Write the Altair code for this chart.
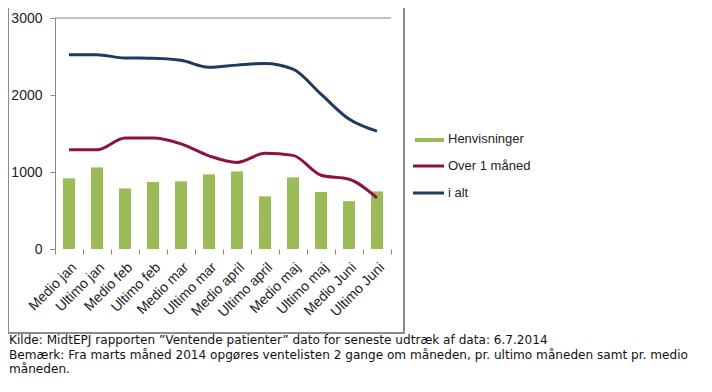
import altair as alt
import pandas as pd

categories = ["Medio jan", "Ultimo jan", "Medio feb", "Ultimo feb", "Medio mar", "Ultimo mar",
              "Medio april", "Ultimo april", "Medio maj", "Ultimo maj", "Medio Juni", "Ultimo Juni"]
henvisninger = [918, 1060, 787, 870, 878, 970, 1008, 684, 930, 740, 621, 748]
over_1_maaned = [1288, 1288, 1440, 1440, 1365, 1210, 1125, 1243, 1216, 958, 905, 665]
i_alt = [2523, 2523, 2480, 2478, 2450, 2360, 2388, 2410, 2335, 2010, 1688, 1530]

series_names = ["Henvisninger", "Over 1 måned", "i alt"]
footer_lines = [
    "Kilde: MidtEPJ rapporten ”Ventende patienter” dato for seneste udtræk af data: 6.7.2014",
    "Bemærk: Fra marts måned 2014 opgøres ventelisten 2 gange om måneden, pr. ultimo måneden samt pr. medio",
    "måneden.",
]

GREEN = "#9BBB59"
RED = "#8C1244"
BLUE = "#1F3A60"
AXIS_GRAY = "#868686"
LABEL_FONT = "Liberation Sans"

bars_df = pd.DataFrame({"cat": categories, "value": henvisninger})
lines_df = pd.DataFrame({
    "cat": categories * 2,
    "series": [series_names[1]] * len(categories) + [series_names[2]] * len(categories),
    "value": over_1_maaned + i_alt,
})

x_enc = alt.X(
    "cat:N", sort=categories,
    scale=alt.Scale(paddingInner=0, paddingOuter=0),
    axis=alt.Axis(title=None, labelAngle=-45, tickBand="extent", tickSize=5, domain=False,
                  labelPadding=6, tickColor=AXIS_GRAY,
                  labelFont=LABEL_FONT, labelFontSize=14, labelColor="#222222"),
)
y_scale = alt.Scale(domain=[0, 3000], nice=False)
y_axis = alt.Axis(title=None, values=[0, 500, 1000, 1500, 2000, 2500, 3000], grid=False, format="d",
                  tickSize=5, labelPadding=8, domainColor=AXIS_GRAY, tickColor=AXIS_GRAY,
                  labelFont=LABEL_FONT, labelFontSize=14, labelColor="#222222")

bars = alt.Chart(bars_df).mark_bar(size=12, color=GREEN).encode(
    x=x_enc, y=alt.Y("value:Q", scale=y_scale, axis=y_axis))

lines = alt.Chart(lines_df).mark_line(strokeWidth=3, interpolate="monotone").encode(
    x=alt.X("cat:N", sort=categories),
    y=alt.Y("value:Q", scale=y_scale),
    color=alt.Color("series:N", scale=alt.Scale(domain=series_names[1:], range=[RED, BLUE]), legend=None),
)

topline = alt.Chart(pd.DataFrame({"v": [3000]})).mark_rule(color=AXIS_GRAY, strokeWidth=1).encode(
    y=alt.Y("v:Q", scale=y_scale))

one = pd.DataFrame({"a": [0]})

frame = alt.Chart(one).mark_rect(fill=None, stroke="#8c8c8c", strokeWidth=2).encode(
    x=alt.value(-47), x2=alt.value(349), y=alt.value(-30), y2=alt.value(315))

leg_swatch = alt.Chart(one).mark_rect(color=GREEN).encode(
    x=alt.value(360), x2=alt.value(389), y=alt.value(120), y2=alt.value(124))
leg_red = alt.Chart(one).mark_rule(color=RED, strokeWidth=3).encode(
    x=alt.value(358), x2=alt.value(389), y=alt.value(148))
leg_blue = alt.Chart(one).mark_rule(color=BLUE, strokeWidth=3).encode(
    x=alt.value(358), x2=alt.value(389), y=alt.value(175))

leg_text = alt.layer(*[
    alt.Chart(pd.DataFrame({"t": [name]})).mark_text(
        align="left", baseline="middle", font=LABEL_FONT, fontSize=13, color="#222222"
    ).encode(text="t:N", x=alt.value(393), y=alt.value(yy))
    for name, yy in zip(series_names, [121, 148, 175])
])

footer = alt.layer(*[
    alt.Chart(pd.DataFrame({"t": [line]})).mark_text(
        align="left", baseline="middle", font="DejaVu Sans", fontSize=12.1, color="#111111"
    ).encode(text="t:N", x=alt.value(-46), y=alt.value(yy))
    for line, yy in zip(footer_lines, [322, 337, 351])
])

chart = alt.layer(frame, topline, bars, lines, leg_swatch, leg_red, leg_blue, leg_text, footer).properties(
    width=336, height=231,
    autosize=alt.AutoSizeParams(type="none"),
    padding={"left": 47, "top": 10, "right": 313, "bottom": 130},
    background="white",
).configure_view(stroke=None)

chart.save("out.html", embed_options={"renderer": "svg", "actions": False})
